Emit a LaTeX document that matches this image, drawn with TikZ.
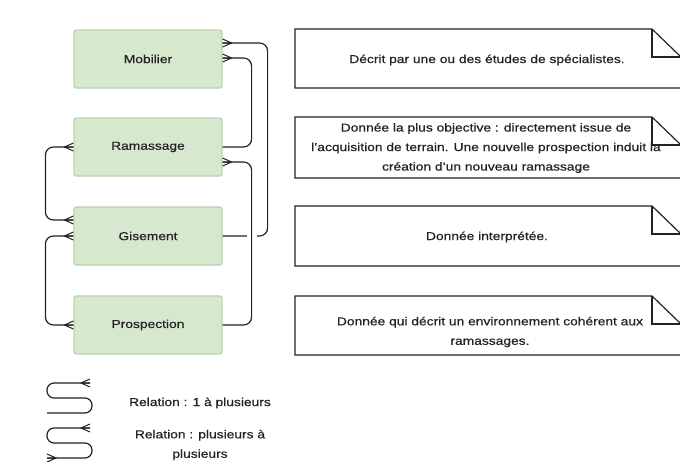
\documentclass[tikz,border=0pt]{standalone}
\usepackage{fontspec}
\setmainfont[FakeStretch=1.2,FakeBold=0.6]{Liberation Sans}
\usetikzlibrary{calc}
\definecolor{boxfill}{RGB}{214,232,206}
\definecolor{boxline}{RGB}{188,210,178}
\definecolor{ink}{RGB}{35,35,35}
\tikzset{
  entity/.style={draw=boxline, line width=1.2pt, fill=boxfill, rounded corners=2pt,
    minimum width=148pt, minimum height=58pt, inner sep=0pt, text=ink,
    font=\fontsize{11.5}{19.5}\selectfont},
  conn/.style={draw=ink, line width=1.2pt, rounded corners=8pt},
  notetext/.style={text=ink, align=center, font=\fontsize{11.5}{19.5}\selectfont, inner sep=0pt},
  notebox/.style={draw=ink, line width=1.2pt, fill=white},
  legtext/.style={text=ink, align=center, font=\fontsize{11.5}{19.5}\selectfont, inner sep=0pt},
  crow/.pic={\draw[draw=ink, line width=1pt] (0,-4) -- (9,0) -- (0,4) (0,0) -- (9,0);}
}
\newcommand{\notefold}[4]{% x1,y1,x2,y2 (top-left, bottom-right)
  \draw[notebox] (#1,#2) -- (652,#2) -- (#3,{#2+28}) -- (#3,#4) -- (#1,#4) -- cycle;
  \draw[draw=ink, line width=1.2pt] (652,#2) -- (652,{#2+28}) -- (#3,{#2+28});
}
\begin{document}
\begin{tikzpicture}[x=1pt, y=-1pt]
\useasboundingbox (0,0) rectangle (680,461);
\fill[white] (0,0) rectangle (680,461);

% entities
\node[entity] (mob) at (148,59) {Mobilier};
\node[entity] (ram) at (148,147) {Ramassage};
\node[entity] (gis) at (148,236) {Gisement};
\node[entity] (pro) at (148,325) {Prospection};

% connectors right side
\draw[conn] (gis.east) -- ($(gis.east)+(45,0)$) |- ($(mob.east)+(0,-16)$);
\fill[white] ($(gis.east)+(24,-4)$) rectangle ($(gis.east)+(34,4)$);
\draw[conn] (ram.east) -- ($(ram.east)+(29,0)$) |- ($(mob.east)+(0,-1)$);
\draw[conn] (pro.east) -- ($(pro.east)+(29,0)$) |- ($(ram.east)+(0,15)$);

% connectors left side
\draw[conn] (ram.west) -- ($(ram.west)+(-28,0)$) |- ($(gis.west)+(0,-16)$);
\draw[conn] (gis.west) -- ($(gis.west)+(-28,0)$) |- (pro.west);

% crow's feet
\pic at ($(mob.east)+(0,-16)$) {crow};
\pic at ($(mob.east)+(0,-1)$) {crow};
\pic at ($(ram.east)+(0,15)$) {crow};
\pic[xscale=-1] at (ram.west) {crow};
\pic[xscale=-1] at ($(gis.west)+(0,-16)$) {crow};
\pic[xscale=-1] at (gis.west) {crow};
\pic[xscale=-1] at (pro.west) {crow};

% notes
\notefold{295}{29}{681}{88}
\node[notetext] (n1) at (487,60) {Décrit par une ou des études de spécialistes.};
\notefold{295}{117}{681}{178}
\node[notetext] (n2) at (486,148) {Donnée la plus objective : directement issue de\\l'acquisition de terrain. Une nouvelle prospection induit la\\création d'un nouveau ramassage};
\notefold{295}{206}{681}{266}
\node[notetext] (n3) at (487,237) {Donnée interprétée.};
\notefold{295}{296}{681}{355}
\node[notetext] (n4) at (490,332) {Donnée qui décrit un environnement cohérent aux\\ramassages.};

% legend
\coordinate (l1) at (90,383);
\draw[conn, rounded corners=7pt] (l1) -- (47,383) -- (47,398) -- (92,398) -- (92,413) -- (47,413);
\pic[xscale=-1] at (l1) {crow};
\node[legtext] (t1) at (200,403) {Relation : 1 à plusieurs};
\coordinate (l2) at (90,428);
\coordinate (l3) at (47,458);
\draw[conn, rounded corners=7pt] (l2) -- (47,428) -- (47,443) -- (92,443) -- (92,458) -- (l3);
\pic[xscale=-1] at (l2) {crow};
\pic at (l3) {crow};
\node[legtext] (t2) at (200,445) {Relation : plusieurs à\\plusieurs};
\end{tikzpicture}
\end{document}
